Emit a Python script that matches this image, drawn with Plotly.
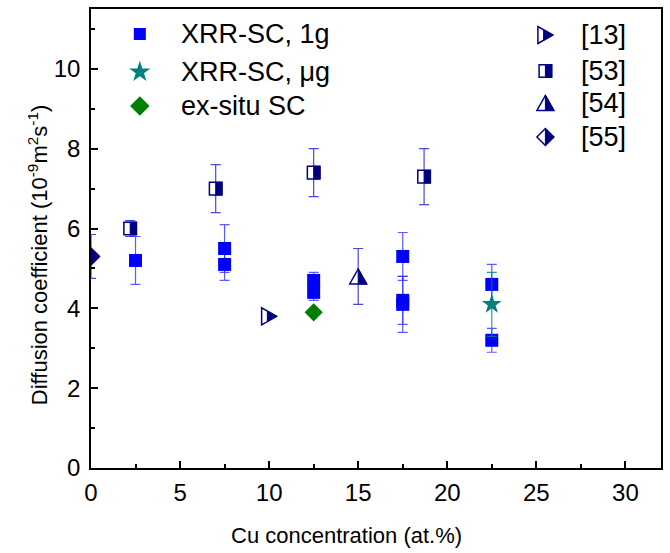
import plotly.graph_objects as go

# ---------------- data ----------------
x_1g = [2.5, 7.5, 7.5, 12.5, 12.5, 17.5, 17.5, 17.5, 22.5, 22.5]
y_1g = [5.2, 5.5, 5.1, 4.7, 4.4, 5.3, 4.2, 4.1, 4.6, 3.2]
e_1g = [0.6, 0.6, 0.4, 0.2, 0.2, 0.6, 0.6, 0.7, 0.5, 0.3]

x_ug = [22.5]
y_ug = [4.1]
e_ug = [0.8]

x_ex = [12.5]
y_ex = [3.9]

x_r13 = [10.0]
y_r13 = [3.8]
e_r13 = [0.0]

x_r53 = [2.2, 7.0, 12.5, 18.7]
y_r53 = [6.0, 7.0, 7.4, 7.3]
e_r53 = [0.2, 0.6, 0.6, 0.7]

x_r54 = [15.0]
y_r54 = [4.8]
e_r54 = [0.7]

x_r55 = [0.0]
y_r55 = [5.3]
e_r55 = [0.55]

legend_left = ["XRR-SC, 1g", "XRR-SC, \u03bcg", "ex-situ SC"]
legend_right = ["[13]", "[53]", "[54]", "[55]"]

x_ticks = [0, 5, 10, 15, 20, 25, 30]
y_ticks = [0, 2, 4, 6, 8, 10]

# ---------------- layout constants ----------------
W, H = 670, 553
PL, PR, PT, PB = 91, 663, 9, 468
FONT = "Arial, Liberation Sans, sans-serif"
BLUE, TEAL, GREEN, NAVY = "#0000FF", "#008080", "#008000", "#000080"


def px(xp):
    return (xp - PL) / (PR - PL)


def py(yp):
    return (PB - yp) / (PB - PT)


# half-filled marker geometry in pixels (y positive up)
def tri_right(w=15, h=17, split=0.38):
    xs = -w / 2 + split * w
    hh = h / 2 * (w / 2 - xs) / w
    o = f"M {-w/2},{-h/2} L {w/2},0 L {-w/2},{h/2} Z"
    f = f"M {xs},{-hh} L {w/2},0 L {xs},{hh} Z"
    return o, f


def half_square(s=12.6):
    o = f"M {-s/2},{-s/2} L {s/2},{-s/2} L {s/2},{s/2} L {-s/2},{s/2} Z"
    f = f"M 0,{-s/2} L {s/2},{-s/2} L {s/2},{s/2} L 0,{s/2} Z"
    return o, f


def tri_up(w=17, h=15):
    o = f"M {-w/2},{-h/2} L {w/2},{-h/2} L 0,{h/2} Z"
    f = f"M 0,{-h/2} L {w/2},{-h/2} L 0,{h/2} Z"
    return o, f


def half_diamond(w=17, h=17):
    o = f"M {-w/2},0 L 0,{h/2} L {w/2},0 L 0,{-h/2} Z"
    f = f"M 0,{h/2} L {w/2},0 L 0,{-h/2} Z"
    return o, f


SYMS = [tri_right(), half_square(), tri_up(), half_diamond()]

fig = go.Figure()

err_ref = "rgba(40,40,210,0.85)"
err_blue = "rgba(50,50,255,0.8)"

# reference error bars (markers drawn as shapes)
for xs, ys, es in [(x_r13, y_r13, e_r13), (x_r53, y_r53, e_r53),
                   (x_r54, y_r54, e_r54), (x_r55, y_r55, e_r55)]:
    fig.add_trace(go.Scatter(
        x=xs, y=ys, mode="markers",
        marker=dict(size=1, opacity=0),
        error_y=dict(type="data", array=es, visible=True, color=err_ref,
                     thickness=1.2, width=5),
        showlegend=False, hoverinfo="skip"))

fig.add_trace(go.Scatter(
    x=x_1g, y=y_1g, mode="markers",
    marker=dict(symbol="square", size=13, color=BLUE, line=dict(width=0)),
    error_y=dict(type="data", array=e_1g, visible=True, color=err_blue,
                 thickness=1.2, width=5),
    showlegend=False))

fig.add_trace(go.Scatter(
    x=x_ex, y=y_ex, mode="markers",
    marker=dict(symbol="diamond", size=14, color=GREEN, line=dict(width=0)),
    showlegend=False))

fig.add_trace(go.Scatter(
    x=x_ug, y=y_ug, mode="markers",
    marker=dict(symbol="star", size=15, color=TEAL, line=dict(width=0)),
    error_y=dict(type="data", array=e_ug, visible=True, color="rgba(0,128,128,0.8)",
                 thickness=1.2, width=5),
    showlegend=False))

# half-filled reference markers anchored to data
shapes = []
for (xs, ys), (o, f) in zip([(x_r13, y_r13), (x_r53, y_r53), (x_r54, y_r54), (x_r55, y_r55)], SYMS):
    for xv, yv in zip(xs, ys):
        common = dict(type="path", xref="x", yref="y", xsizemode="pixel", ysizemode="pixel",
                      xanchor=xv, yanchor=yv, layer="above")
        shapes.append(dict(path=o, fillcolor="white", line=dict(color=NAVY, width=1.5), **common))
        shapes.append(dict(path=f, fillcolor=NAVY, line=dict(color=NAVY, width=1), **common))

# manual legend (left): markers on overlay axes
leg_left_y = [34, 72, 106]
leg_left_sym = [("square", 12, BLUE), ("star", 16, TEAL), ("diamond", 15, GREEN)]
for (sym, sz, col), yp in zip(leg_left_sym, leg_left_y):
    fig.add_trace(go.Scatter(
        x=[px(140)], y=[py(yp)], xaxis="x2", yaxis="y2", mode="markers",
        marker=dict(symbol=sym, size=sz, color=col, line=dict(width=0)),
        showlegend=False, hoverinfo="skip", cliponaxis=False))

LEG_SIZE = 27
annotations = []
for txt, yp in zip(legend_left, leg_left_y):
    annotations.append(dict(text=txt, x=px(179), y=py(yp), xref="paper", yref="paper",
                            xanchor="left", yanchor="middle", showarrow=False,
                            font=dict(family=FONT, size=LEG_SIZE, color="black")))

leg_right_y = [35, 71, 103, 137]
for txt, yp, (o, f) in zip(legend_right, leg_right_y, SYMS):
    common = dict(type="path", xref="paper", yref="paper", xsizemode="pixel", ysizemode="pixel",
                  xanchor=px(547), yanchor=py(yp), layer="above")
    shapes.append(dict(path=o, fillcolor="white", line=dict(color=NAVY, width=1.5), **common))
    shapes.append(dict(path=f, fillcolor=NAVY, line=dict(color=NAVY, width=1), **common))
    annotations.append(dict(text=txt, x=px(581), y=py(yp), xref="paper", yref="paper",
                            xanchor="left", yanchor="middle", showarrow=False,
                            font=dict(family=FONT, size=LEG_SIZE, color="black")))

# axis titles
annotations.append(dict(text="Cu concentration (at.%)", x=px(347), y=py(535),
                        xref="paper", yref="paper", xanchor="center", yanchor="middle",
                        showarrow=False, font=dict(family=FONT, size=22, color="black")))
annotations.append(dict(text="Diffusion coefficient (10<sup>-9</sup>m<sup>2</sup>s<sup>-1</sup>)",
                        x=px(38), y=py(255), xref="paper", yref="paper",
                        xanchor="center", yanchor="middle", textangle=-90,
                        showarrow=False, font=dict(family=FONT, size=22, color="black")))

axis_common = dict(showline=True, linecolor="black", linewidth=1.5, mirror=True,
                   ticks="inside", tickcolor="black", tickwidth=1.5, ticklen=7,
                   showgrid=False, zeroline=False,
                   tickfont=dict(family=FONT, size=24, color="black"))

fig.update_layout(
    width=W, height=H, autosize=False,
    margin=dict(l=PL, r=W - PR, t=PT, b=H - PB, pad=0),
    paper_bgcolor="white", plot_bgcolor="white",
    showlegend=False,
    xaxis=dict(range=[0, 32], tickvals=x_ticks, ticktext=[str(v) for v in x_ticks],
               minor=dict(ticks="inside", dtick=2.5, ticklen=4, tickcolor="black", tickwidth=1.5),
               ticklabelstandoff=2, **axis_common),
    yaxis=dict(range=[0, 11.5], tickvals=y_ticks, ticktext=[str(v) for v in y_ticks],
               minor=dict(ticks="inside", dtick=1, ticklen=4, tickcolor="black", tickwidth=1.5),
               ticklabelstandoff=4, **axis_common),
    xaxis2=dict(overlaying="x", range=[0, 1], visible=False, fixedrange=True),
    yaxis2=dict(overlaying="y", range=[0, 1], visible=False, fixedrange=True),
    shapes=shapes,
    annotations=annotations,
)

fig.write_html("out.html")
